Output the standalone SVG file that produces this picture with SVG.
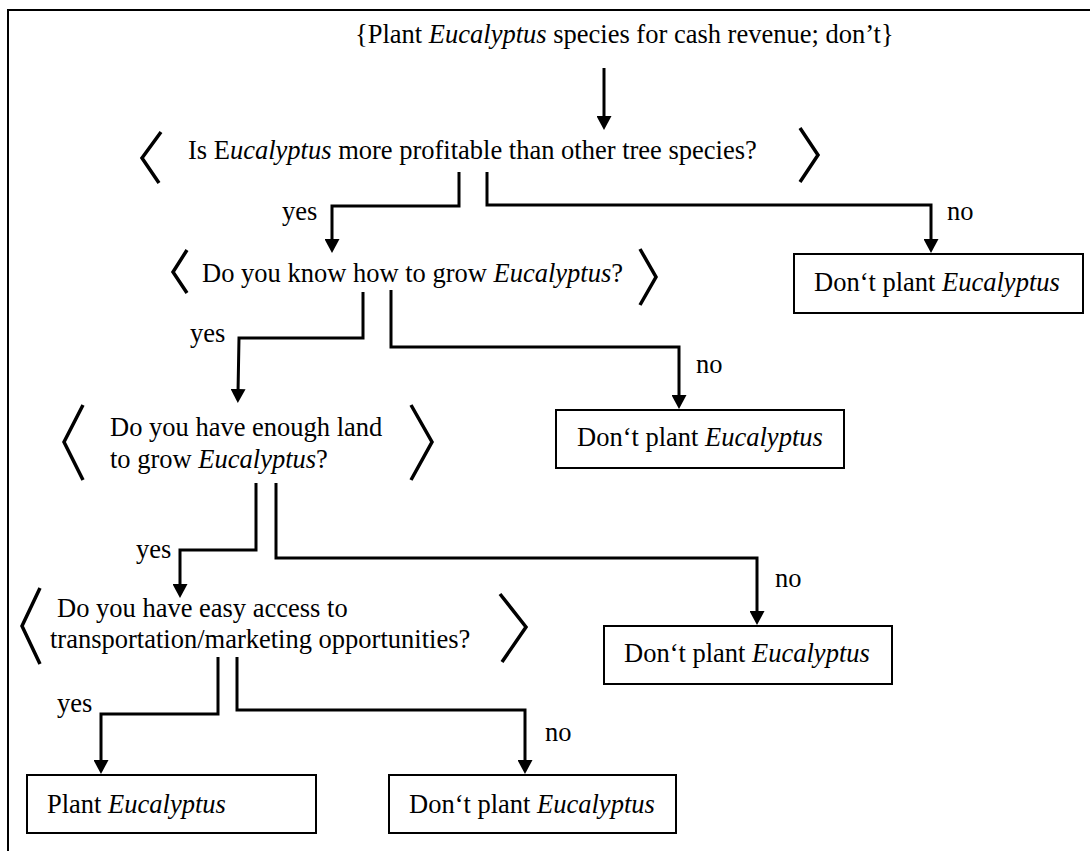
<svg xmlns="http://www.w3.org/2000/svg" width="1090" height="851" viewBox="0 0 1090 851">
  <defs>
    <marker id="ah" viewBox="0 0 14 15" markerWidth="14" markerHeight="15" refX="4" refY="7.5" orient="auto" markerUnits="userSpaceOnUse">
      <path d="M0,0 L14,7.5 L0,15 Z" fill="#000"/>
    </marker>
    <style>
      .t { font-family: "Liberation Serif", "Times New Roman", serif; font-size: 26.5px; fill: #000; }
      .i { font-style: italic; }
      .br { fill: none; stroke: #000; stroke-width: 3.5; stroke-linejoin: miter; }
      .box { fill: #fff; stroke: #000; stroke-width: 2; }
      .cn { fill: none; stroke: #000; stroke-width: 3; stroke-linejoin: miter; marker-end: url(#ah); }
      .frame { fill: none; stroke: #000; stroke-width: 2; }
    </style>
  </defs>

  <rect width="1090" height="851" fill="#fff"/>
  <!-- page frame (right and bottom edges run off the page) -->
  <path class="frame" d="M8,851 V10 H1090"/>

  <!-- root statement -->
  <g id="root">
    <text class="t" x="355" y="43">{Plant <tspan class="i">Eucalyptus</tspan> species for cash revenue; don’t}</text>
  </g>

  <!-- decision 1 -->
  <g id="q1">
    <polyline class="br" points="161,132 142,158 159,183"/>
    <polyline class="br" points="800,128 818,155 800,182"/>
    <text class="t" x="188" y="159">Is E<tspan class="i">ucalyptus</tspan> more profitable than other tree species?</text>
  </g>

  <!-- decision 2 -->
  <g id="q2">
    <polyline class="br" points="187,250 173,272 187,293"/>
    <polyline class="br" points="640,249 656,277 640,305"/>
    <text class="t" x="202" y="282">Do you know how to grow <tspan class="i">Eucalyptus</tspan>?</text>
  </g>

  <!-- decision 3 -->
  <g id="q3">
    <polyline class="br" points="83,405 64,442 83,480"/>
    <polyline class="br" points="411,405 432,442 411,480"/>
    <text class="t" x="110" y="436">Do you have enough land</text>
    <text class="t" x="110" y="468">to grow <tspan class="i">Eucalyptus</tspan>?</text>
  </g>

  <!-- decision 4 -->
  <g id="q4">
    <polyline class="br" points="40,588 22,626 40,664"/>
    <polyline class="br" points="500,594 526,627 502,662"/>
    <text class="t" x="57" y="617">Do you have easy access to</text>
    <text class="t" x="50" y="648">transportation/marketing opportunities?</text>
  </g>

  <!-- outcomes -->
  <g id="no1">
    <rect class="box" x="794" y="254" width="289" height="59"/>
    <text class="t" x="814" y="291">Don‘t plant <tspan class="i">Eucalyptus</tspan></text>
  </g>
  <g id="no2">
    <rect class="box" x="556" y="410" width="288" height="58"/>
    <text class="t" x="577" y="446">Don‘t plant <tspan class="i">Eucalyptus</tspan></text>
  </g>
  <g id="no3">
    <rect class="box" x="604" y="626" width="288" height="58"/>
    <text class="t" x="624" y="662">Don‘t plant <tspan class="i">Eucalyptus</tspan></text>
  </g>
  <g id="plant">
    <rect class="box" x="27" y="775" width="289" height="58"/>
    <text class="t" x="47" y="813">Plant <tspan class="i">Eucalyptus</tspan></text>
  </g>
  <g id="no4">
    <rect class="box" x="389" y="775" width="287" height="58"/>
    <text class="t" x="409" y="813">Don‘t plant <tspan class="i">Eucalyptus</tspan></text>
  </g>

  <!-- connectors -->
  <g id="connectors">
    <polyline class="cn" points="604,68 604,120"/>

    <polyline class="cn" points="459,172 459,206 332,206 332,243"/>
    <polyline class="cn" points="487,172 487,205 931,205 931,243"/>

    <polyline class="cn" points="363,292 363,338 239,338 238,393"/>
    <polyline class="cn" points="391,290 391,347 679,347 679,399"/>

    <polyline class="cn" points="256,483 256,550 180,550 180,588"/>
    <polyline class="cn" points="276,483 276,558 757,558 757,615"/>

    <polyline class="cn" points="218,657 218,714 101,714 101,764"/>
    <polyline class="cn" points="237,657 237,710 525,710 525,764"/>
  </g>

  <!-- branch labels -->
  <g id="labels">
    <text class="t" x="282" y="220">yes</text>
    <text class="t" x="947" y="220">no</text>
    <text class="t" x="190" y="342">yes</text>
    <text class="t" x="696" y="373">no</text>
    <text class="t" x="136" y="558">yes</text>
    <text class="t" x="775" y="587">no</text>
    <text class="t" x="57" y="712">yes</text>
    <text class="t" x="545" y="741">no</text>
  </g>
</svg>
